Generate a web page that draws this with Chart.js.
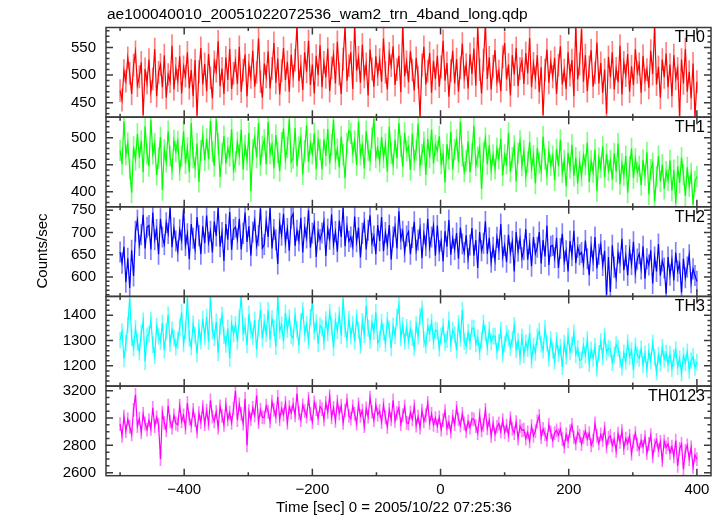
<!DOCTYPE html>
<html>
<head>
<meta charset="utf-8">
<script src="https://cdn.jsdelivr.net/npm/chart.js@4.4.0/dist/chart.umd.min.js"></script>
<style>
  html, body { margin: 0; padding: 0; background: #fff; }
  #lc { display: block; }
</style>
</head>
<body>
<canvas id="lc" width="722" height="516"></canvas>
<script>
const titleText = 'ae100040010_20051022072536_wam2_trn_4band_long.qdp';
const xTitle = 'Time [sec] 0 = 2005/10/22 07:25:36';
const yTitle = 'Counts/sec';
const panelNames = ['TH0', 'TH1', 'TH2', 'TH3', 'TH0123'];

// time bins: first bin and bin width (sec)
const t0 = -500;
const dt = 3;

const th0 = [
  472, 455, 508, 489, 531, 503, 466, 518, 542, 481, 497, 523, 428, 511, 486,
  528, 470, 493, 547, 462, 505, 519, 478, 536, 459, 501, 488, 553, 474, 512,
  490, 534, 467, 515, 498, 541, 476, 509, 462, 527, 427, 506, 549, 483, 520,
  471, 538, 495, 458, 524, 507, 561, 480, 512, 466, 532, 491, 547, 475, 503,
  526, 484, 551, 470, 509, 537, 462, 518, 496, 544, 479, 505, 566, 488, 459,
  521, 497, 543, 476, 512, 558, 486, 530, 465, 508, 549, 491, 524, 470, 537,
  498, 527, 590, 489, 516, 473, 541, 506, 562, 482, 519, 467, 535, 500, 554,
  478, 523, 496, 548, 471, 513, 537, 485, 560, 502, 466, 529, 588, 490, 517,
  541, 475, 590, 508, 532, 486, 555, 497, 520, 463, 546, 511, 479, 534, 501,
  528, 488, 566, 505, 474, 539, 517, 552, 482, 510, 535, 469, 592, 498, 524,
  487, 543, 509, 472, 531, 496, 425, 518, 551, 483, 507, 540, 468, 526, 493,
  535, 479, 515, 562, 490, 522, 461, 508, 544, 485, 529, 470, 513, 557, 496,
  519, 476, 538, 502, 548, 481, 585, 510, 467, 527, 590, 493, 532, 474, 516,
  545, 488, 507, 471, 533, 558, 492, 519, 463, 536, 501, 549, 480, 512, 526,
  484, 540, 503, 567, 478, 521, 495, 536, 469, 514, 428, 509, 546, 486, 524,
  497, 531, 466, 518, 552, 483, 509, 475, 541, 500, 527, 462, 590, 492, 520,
  583, 488, 536, 471, 515, 545, 479, 504, 559, 485, 522, 468, 510, 430, 533,
  496, 541, 474, 512, 487, 553, 465, 523, 499, 538, 470, 516, 482, 547, 505,
  520, 468, 535, 491, 510, 477, 544, 502, 587, 483, 515, 459, 528, 496, 539,
  478, 519, 462, 536, 493, 512, 426, 528, 485, 547, 470, 506, 458, 521, 424,
  488
];

const th1 = [
  476, 451, 530, 468, 490, 442, 398, 483, 459, 507, 463, 494, 436, 521, 470,
  447, 533, 470, 489, 431, 462, 501, 403, 478, 455, 512, 466, 441, 495, 474,
  493, 440, 466, 512, 452, 481, 436, 527, 463, 445, 489, 418, 476, 503, 458,
  498, 460, 531, 474, 447, 534, 489, 427, 470, 503, 452, 481, 466, 516, 440,
  455, 492, 468, 515, 441, 486, 459, 509, 401, 478, 500, 463, 527, 449, 484,
  496, 451, 529, 470, 487, 443, 505, 472, 438, 491, 517, 460, 482, 534, 455,
  462, 518, 447, 483, 500, 432, 476, 523, 455, 489, 470, 508, 441, 495, 478,
  441, 497, 466, 516, 452, 487, 533, 460, 479, 445, 502, 468, 425, 490, 513,
  508, 472, 494, 449, 530, 468, 486, 443, 512, 476, 458, 499, 535, 463, 481,
  455, 501, 463, 488, 437, 520, 471, 450, 496, 462, 527, 484, 446, 509, 475,
  484, 440, 507, 459, 477, 526, 448, 469, 492, 431, 498, 463, 515, 452, 486,
  475, 503, 452, 469, 417, 488, 460, 511, 441, 478, 496, 454, 530, 466, 437,
  457, 493, 436, 470, 522, 448, 464, 482, 405, 473, 499, 451, 486, 440, 468,
  442, 480, 461, 498, 430, 468, 452, 509, 437, 463, 485, 419, 471, 494, 448,
  476, 428, 455, 492, 443, 467, 415, 481, 453, 438, 502, 460, 431, 474, 449,
  466, 421, 479, 447, 496, 435, 458, 410, 472, 444, 487, 429, 463, 415, 455,
  429, 468, 450, 491, 418, 457, 436, 478, 401, 462, 445, 484, 427, 470, 439,
  458, 422, 471, 437, 489, 414, 452, 430, 466, 398, 447, 480, 425, 461, 436,
  447, 412, 459, 430, 473, 395, 441, 453, 382, 428, 466, 419, 450, 405, 437,
  421, 458, 402, 440, 378, 447, 416, 463, 431, 392, 445, 410, 434, 376, 419,
  428
];

const th2 = [
  656, 631, 668, 588, 642, 575, 660, 602, 703, 728, 671, 695, 740, 664, 712,
  716, 662, 745, 684, 707, 651, 731, 690, 673, 722, 698, 757, 667, 710, 681,
  658, 706, 683, 752, 671, 697, 640, 719, 687, 662, 735, 693, 651, 714, 676,
  738, 678, 703, 655, 725, 692, 757, 668, 700, 636, 719, 684, 746, 661, 707,
  712, 685, 731, 662, 698, 745, 679, 714, 648, 701, 727, 670, 693, 754, 665,
  673, 726, 690, 755, 664, 707, 683, 629, 721, 694, 742, 677, 709, 659, 733,
  742, 670, 705, 681, 733, 655, 712, 688, 750, 666, 699, 720, 645, 702, 684,
  699, 724, 647, 708, 685, 741, 673, 702, 657, 727, 690, 756, 669, 713, 680,
  690, 668, 736, 679, 711, 644, 698, 723, 662, 705, 739, 676, 692, 651, 717,
  681, 735, 658, 700, 672, 717, 639, 690, 713, 664, 748, 685, 703, 656, 692,
  702, 651, 689, 724, 660, 683, 709, 642, 697, 670, 731, 666, 690, 715, 648,
  716, 659, 681, 635, 703, 668, 728, 650, 687, 662, 699, 641, 711, 674, 655,
  694, 641, 672, 710, 648, 683, 620, 701, 659, 676, 725, 652, 688, 633, 667,
  637, 689, 662, 719, 645, 671, 633, 695, 654, 680, 612, 701, 658, 686, 643,
  661, 708, 639, 675, 624, 690, 652, 667, 701, 630, 683, 646, 716, 627, 669,
  671, 643, 688, 620, 664, 697, 635, 659, 612, 681, 648, 704, 631, 667, 650,
  655, 628, 682, 641, 604, 668, 636, 690, 619, 651, 673, 626, 659, 560, 645,
  566, 671, 622, 597, 654, 632, 686, 615, 648, 603, 661, 628, 679, 609, 640,
  652, 618, 669, 596, 641, 627, 660, 585, 645, 612, 674, 603, 636, 620, 562,
  645, 604, 638, 592, 655, 613, 630, 565, 641, 598, 622, 650, 587, 618, 603,
  590
];

const th3 = [
  1302, 1335, 1228, 1290, 1361, 1468, 1312, 1270, 1349, 1293, 1255, 1330, 1378, 1216, 1318,
  1326, 1381, 1284, 1240, 1357, 1318, 1296, 1370, 1262, 1335, 1402, 1289, 1343, 1310, 1274,
  1301, 1354, 1412, 1287, 1340, 1470, 1309, 1275, 1366, 1322, 1248, 1351, 1298, 1385, 1316,
  1393, 1296, 1472, 1338, 1311, 1375, 1252, 1356, 1401, 1320, 1285, 1349, 1230, 1368, 1327,
  1364, 1297, 1389, 1475, 1330, 1358, 1283, 1405, 1341, 1316, 1382, 1265, 1350, 1421, 1309,
  1372, 1328, 1420, 1305, 1387, 1351, 1276, 1475, 1339, 1362, 1298, 1410, 1345, 1391, 1320,
  1310, 1398, 1345, 1281, 1376, 1420, 1329, 1364, 1300, 1392, 1452, 1337, 1371, 1288, 1359,
  1351, 1296, 1383, 1330, 1413, 1355, 1272, 1378, 1340, 1402, 1319, 1466, 1347, 1305, 1385,
  1318, 1365, 1297, 1391, 1342, 1280, 1376, 1324, 1438, 1349, 1301, 1370, 1336, 1412, 1290,
  1305, 1372, 1334, 1289, 1381, 1346, 1271, 1358, 1320, 1393, 1440, 1311, 1360, 1297, 1352,
  1299, 1347, 1312, 1271, 1363, 1318, 1395, 1426, 1305, 1282, 1356, 1330, 1374, 1298, 1341,
  1338, 1270, 1319, 1355, 1293, 1304, 1382, 1288, 1341, 1323, 1262, 1367, 1310, 1421, 1297,
  1279, 1332, 1296, 1350, 1348, 1287, 1312, 1256, 1303, 1370, 1329, 1274, 1341, 1295, 1318,
  1318, 1258, 1293, 1341, 1247, 1286, 1329, 1310, 1272, 1305, 1360, 1264, 1298, 1236, 1315,
  1244, 1291, 1268, 1330, 1223, 1279, 1254, 1316, 1337, 1285, 1262, 1348, 1290, 1231, 1304,
  1262, 1219, 1301, 1248, 1274, 1196, 1290, 1239, 1317, 1256, 1282, 1330, 1245, 1268, 1222,
  1225, 1281, 1243, 1304, 1208, 1262, 1231, 1277, 1190, 1249, 1296, 1236, 1318, 1255, 1270,
  1266, 1213, 1242, 1284, 1270, 1226, 1195, 1251, 1218, 1292, 1237, 1260, 1184, 1279, 1243,
  1230, 1267, 1205, 1248, 1186, 1256, 1219, 1291, 1234, 1175, 1242, 1210, 1273, 1227, 1250,
  1208, 1246, 1189, 1232, 1264, 1197, 1228, 1171, 1240, 1213, 1255, 1182, 1221, 1236, 1194,
  1215
];

const th0123 = [
  2955, 2870, 3010, 2905, 2990, 2935, 2880, 3060, 3170, 2940, 2995, 2895, 3030, 2960, 2915,
  2985, 2920, 3075, 2940, 3005, 2950, 2700, 3040, 2965, 2910, 3090, 2975, 2930, 3020, 2960,
  2950, 3090, 2975, 3020, 2930, 3110, 2995, 2945, 3060, 2985, 2900, 3035, 2970, 3080, 2955,
  3055, 2960, 3130, 3010, 2975, 3045, 2930, 3085, 3015, 2950, 3100, 2990, 3040, 2965, 3070,
  3200, 2985, 3100, 3030, 2960, 3140, 2800, 3050, 2990, 3075, 3020, 3165, 2970, 3060, 3005,
  3005, 3090, 3045, 2975, 3120, 3060, 3010, 3155, 2990, 3070, 3025, 3110, 2965, 3080, 3040,
  3100, 3020, 3180, 3035, 2985, 3095, 3050, 3010, 3140, 3030, 2970, 3115, 3065, 3000, 3085,
  3065, 2990, 3110, 3045, 3160, 3005, 3075, 2980, 3120, 3035, 3090, 2965, 3055, 3130, 3015,
  2995, 3085, 3030, 2960, 3100, 3015, 3055, 2940, 3070, 3010, 3150, 3045, 2985, 3095, 3025,
  3050, 2970, 3095, 3005, 2935, 3060, 2990, 3130, 2980, 3035, 3075, 2955, 3020, 3085, 2965,
  2960, 3040, 2990, 3085, 2945, 3010, 2930, 3055, 2975, 3020, 3110, 2965, 3030, 2950, 3000,
  2940, 3005, 2915, 2985, 3050, 2925, 2970, 2900, 3010, 2955, 3075, 2990, 2945, 3030, 2960,
  2905, 2975, 2930, 2995, 2990, 2940, 2890, 3020, 2910, 2950, 3060, 2925, 2985, 2870, 2960,
  2880, 2935, 2960, 2900, 2985, 2895, 2945, 2875, 3000, 2920, 2890, 2970, 2850, 2940, 2910,
  2915, 2850, 2895, 2830, 2940, 2870, 2905, 2975, 3015, 2860, 2920, 2880, 2840, 2950, 2895,
  2835, 2890, 2910, 2875, 2920, 2845, 2790, 2880, 2830, 2905, 2950, 2860, 2815, 2895, 2870,
  2810, 2860, 2905, 2845, 2890, 2800, 2835, 2960, 2870, 2815, 2880, 2840, 2925, 2790, 2855,
  2870, 2800, 2845, 2760, 2885, 2825, 2905, 2780, 2850, 2815, 2870, 2740, 2830, 2890, 2805,
  2770, 2835, 2790, 2860, 2745, 2810, 2875, 2720, 2800, 2840, 2765, 2825, 2690, 2830, 2785,
  2810, 2745, 2790, 2720, 2835, 2650, 2775, 2810, 2625, 2760, 2800, 2700, 2785, 2640, 2730,
  2700
];

const series = [th0, th1, th2, th3, th0123];
// typical 1-sigma error per bin, per band
const errBars = [20, 19, 23, 32, 48];

// axis ranges and tick labels
const xRange = [-522, 422];
const xTicks = [-400, -200, 0, 200, 400];
const yRanges = [[424, 586], [372, 538], [556, 758], [1120, 1475], [2578, 3234]];
const yTicks = [
  [450, 500, 550],
  [400, 450, 500],
  [600, 650, 700, 750],
  [1200, 1300, 1400],
  [2600, 2800, 3000, 3200]
];
const yMinor = [10, 10, 10, 20, 50];

const colors = ['#ff0000', '#00ff00', '#0000ff', '#00ffff', '#ff00ff'];
const errColors = ['rgba(255,0,0,0.5)', 'rgba(0,255,0,0.5)', 'rgba(0,0,255,0.5)', 'rgba(0,255,255,0.55)', 'rgba(255,0,255,0.5)'];

const FONT = '"Liberation Sans", Arial, Helvetica, sans-serif';
const frameColor = '#3a3a3a';

const datasets = [];
series.forEach((s, p) => {
  datasets.push({
    type: 'line',
    label: panelNames[p],
    data: s.map((v, i) => ({ x: t0 + i * dt, y: v })),
    yAxisID: 'y' + p,
    borderColor: colors[p],
    borderWidth: 1.2,
    pointRadius: 0,
    tension: 0,
    order: 0
  });
  // error bars as floating bars
  datasets.push({
    type: 'bar',
    label: panelNames[p] + ' err',
    data: s.map((v, i) => ({ x: t0 + i * dt, y: [v - errBars[p], v + errBars[p]] })),
    yAxisID: 'y' + p,
    backgroundColor: errColors[p],
    borderWidth: 0,
    barThickness: 1,
    grouped: false,
    order: 1
  });
});

const scales = {
  x: {
    type: 'linear',
    position: 'bottom',
    min: xRange[0],
    max: xRange[1],
    offset: false,
    grid: { display: false, drawTicks: false },
    border: { display: false },
    ticks: {
      font: { family: FONT, size: 15 },
      color: '#000',
      padding: 5,
      autoSkip: false,
      maxRotation: 0,
      callback: v => v < 0 ? '\u2212' + (-v) : String(v)
    },
    afterBuildTicks: s => { s.ticks = xTicks.map(v => ({ value: v })); },
    afterFit: s => { s.height = 40.3; }
  }
};

panelNames.forEach((name, p) => {
  scales['y' + p] = {
    type: 'linear',
    position: 'left',
    stack: 'panels',
    stackWeight: 1,
    weight: 5 - p,
    min: yRanges[p][0],
    max: yRanges[p][1],
    grid: { display: false, drawTicks: false },
    border: { display: false },
    ticks: {
      font: { family: FONT, size: 15 },
      color: '#000',
      padding: 10,
      autoSkip: false,
      callback: v => String(v)
    },
    afterBuildTicks: s => { s.ticks = yTicks[p].map(v => ({ value: v })); },
    afterFit: s => { s.width = 106; }
  };
});

// panel frames, inward ticks, labels, titles
const qdpFrame = {
  id: 'qdpFrame',
  beforeDatasetDraw(chart, args) {
    const m = args.meta;
    const ctx = chart.ctx;
    ctx.save();
    ctx.beginPath();
    ctx.rect(m.xScale.left, m.yScale.top, m.xScale.width, m.yScale.height);
    ctx.clip();
  },
  afterDatasetDraw(chart) {
    chart.ctx.restore();
  },
  afterDraw(chart) {
    const ctx = chart.ctx;
    const xs = chart.scales.x;
    const L = xs.left, R = xs.right;
    ctx.save();
    ctx.strokeStyle = frameColor;
    ctx.lineWidth = 1.5;
    panelNames.forEach((name, p) => {
      const ys = chart.scales['y' + p];
      const top = ys.top, bot = ys.bottom;
      ctx.strokeRect(L, top, R - L, bot - top);
      ctx.beginPath();
      for (let v = -500; v <= 400; v += 100) {
        const px = xs.getPixelForValue(v);
        const len = v % 200 === 0 ? 7 : 3.5;
        ctx.moveTo(px, top); ctx.lineTo(px, top + len);
        ctx.moveTo(px, bot); ctx.lineTo(px, bot - len);
      }
      const step = yMinor[p];
      for (let v = Math.ceil(ys.min / step) * step; v <= ys.max; v += step) {
        const py = ys.getPixelForValue(v);
        const len = yTicks[p].includes(v) ? 7 : 3.5;
        ctx.moveTo(L, py); ctx.lineTo(L + len, py);
        ctx.moveTo(R, py); ctx.lineTo(R - len, py);
      }
      ctx.stroke();
      ctx.fillStyle = '#000';
      ctx.font = '16px ' + FONT;
      ctx.textAlign = 'right';
      ctx.textBaseline = 'middle';
      ctx.fillText(name, R - 6, top + 10.5);
    });

    ctx.fillStyle = '#000';
    ctx.font = '15.5px ' + FONT;
    ctx.textAlign = 'left';
    ctx.textBaseline = 'middle';
    ctx.fillText(titleText, 107, 15);
    ctx.font = '15px ' + FONT;
    ctx.fillText(xTitle, 276, 508);

    ctx.translate(43, 251);
    ctx.rotate(-Math.PI / 2);
    ctx.textAlign = 'center';
    ctx.fillText(yTitle, 0, 0);
    ctx.restore();
  }
};

new Chart(document.getElementById('lc'), {
  type: 'line',
  data: { datasets },
  options: {
    responsive: false,
    animation: false,
    layout: { padding: { left: 0, right: 11, top: 27.5, bottom: 0 } },
    scales,
    plugins: {
      legend: { display: false },
      tooltip: { enabled: false },
      title: { display: false }
    }
  },
  plugins: [qdpFrame]
});
</script>
</body>
</html>
